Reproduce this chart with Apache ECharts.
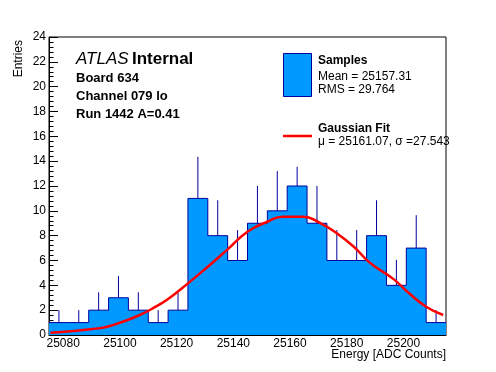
<!DOCTYPE html>
<html>
<head>
<meta charset="utf-8">
<script src="https://cdn.jsdelivr.net/npm/echarts@6/dist/echarts.min.js"></script>
<style>
html,body{margin:0;padding:0;background:#fff;}
#c{width:496px;height:372px;}
</style>
</head>
<body>
<div id="c"></div>
<script>
// ---- data ----
const binEdges = [25075,25082,25089,25096,25103,25110,25117,25124,25131,25138,25145,25152,25159,25166,25173,25180,25187,25194,25201,25208,25215];
const counts   = [1,1,2,3,2,1,2,11,8,6,9,10,12,9,6,6,8,4,7,1];
const errTop   = [2,2,3.44,4.75,3.44,2,3.44,14.35,10.85,8.45,12,13.2,13.55,12,8.45,8.45,10.85,6.05,9.65,2];
const fitX = [25075.5,25083.5,25089.5,25095.5,25101,25107,25112,25117,25124,25131,25138,25145,25152,25157.5,25164.5,25170.5,25176.5,25182.5,25188,25196.5,25202,25208,25214];
const fitY = [0.19,0.32,0.46,0.67,1.07,1.61,2.2,2.9,4.16,5.5,6.9,8.32,9.12,9.53,9.53,9.04,8.19,7.11,5.85,4.5,3.36,2.28,1.61];
const xTickLabels = [25080,25100,25120,25140,25160,25180,25200];
const yTickLabels = [0,2,4,6,8,10,12,14,16,18,20,22,24];

const FONT = '"Liberation Sans", Arial, Helvetica, sans-serif';
const FILL = '#0099ff';
const NAVY = '#00009c';

const xMinor = [];
for (let v = 25080 - 20/6; v <= 25215; v += 20/6) xMinor.push(+v.toFixed(4));

const histPts = counts.map((c,i)=>[binEdges[i], c]);
histPts.push([binEdges[binEdges.length-1], counts[counts.length-1]]);
const errData = counts.map((c,i)=>[(binEdges[i]+binEdges[i+1])/2, c, errTop[i]]);
const fitData = fitX.map((x,i)=>[x, fitY[i]]);

const chart = echarts.init(document.getElementById('c'), null, {renderer:'canvas'});
chart.setOption({
  animation:false,
  backgroundColor:'#fff',
  grid:{left:49,right:50,top:37,bottom:37,show:true,borderColor:'#000',borderWidth:1,backgroundColor:'transparent'},
  xAxis:[
    {type:'value',min:25075,max:25215,position:'bottom',
     axisLine:{show:true,onZero:false,lineStyle:{color:'#000',width:1}},
     axisTick:{show:true,inside:true,length:9,customValues:xTickLabels,lineStyle:{color:'#000'}},
     axisLabel:{customValues:xTickLabels,color:'#000',fontSize:12,fontFamily:FONT,margin:3,
       formatter:(v)=>String(v)},
     splitLine:{show:false}},
    {type:'value',min:25075,max:25215,position:'bottom',
     axisLine:{show:false},
     axisTick:{show:true,inside:true,length:4.5,customValues:xMinor,lineStyle:{color:'#000'}},
     axisLabel:{show:false},splitLine:{show:false}}
  ],
  yAxis:{type:'value',min:0,max:24,interval:2,
     axisLine:{show:true,lineStyle:{color:'#000',width:1}},
     axisTick:{show:true,inside:true,length:9,lineStyle:{color:'#000'}},
     minorTick:{show:true,splitNumber:5,length:4.5,lineStyle:{color:'#000'}},
     axisLabel:{color:'#000',fontSize:12,fontFamily:FONT,margin:3,
       formatter:(v)=>yTickLabels.includes(v)?String(v):''},
     splitLine:{show:false},minorSplitLine:{show:false}},
  series:[
    {type:'line',step:'end',data:histPts,symbol:'none',xAxisIndex:0,
     lineStyle:{color:NAVY,width:1},areaStyle:{color:FILL,opacity:1},z:2},
    {type:'custom',xAxisIndex:0,data:errData,encode:{x:0,y:[1,2]},z:3,
     renderItem:(params,api)=>{
       const p1=api.coord([api.value(0),api.value(1)]);
       const p2=api.coord([api.value(0),api.value(2)]);
       return {type:'line',shape:{x1:p1[0],y1:p1[1],x2:p2[0],y2:p2[1]},style:{stroke:NAVY,lineWidth:1}};
     }},
    {type:'line',data:fitData,smooth:true,symbol:'none',xAxisIndex:0,
     lineStyle:{color:'#ff0000',width:2.5},z:5}
  ],
  graphic:[
    {type:'text',x:76,y:59.5,style:{text:'{a|ATLAS} {b|Internal}',textVerticalAlign:'middle',
      rich:{a:{fontStyle:'italic',fontSize:17,fontFamily:FONT,fill:'#000'},b:{fontWeight:'bold',fontSize:17,fontFamily:FONT,fill:'#000'}}}},
    {type:'text',x:76,y:78,style:{text:'Board 634',font:'bold 13px '+FONT,fill:'#000',textVerticalAlign:'middle'}},
    {type:'text',x:76,y:96,style:{text:'Channel 079 lo',font:'bold 13px '+FONT,fill:'#000',textVerticalAlign:'middle'}},
    {type:'text',x:76,y:114.5,style:{text:'Run 1442 A=0.41',font:'bold 13px '+FONT,fill:'#000',textVerticalAlign:'middle'}},
    {type:'rect',shape:{x:283.5,y:53.5,width:28,height:43},style:{fill:FILL,stroke:NAVY,lineWidth:1}},
    {type:'text',x:318,y:61,style:{text:'Samples',font:'bold 12px '+FONT,fill:'#000',textVerticalAlign:'middle'}},
    {type:'text',x:318,y:76.5,style:{text:'Mean = 25157.31',font:'12px '+FONT,fill:'#000',textVerticalAlign:'middle'}},
    {type:'text',x:318,y:90,style:{text:'RMS = 29.764',font:'12px '+FONT,fill:'#000',textVerticalAlign:'middle'}},
    {type:'line',shape:{x1:283,y1:136,x2:312,y2:136},style:{stroke:'#ff0000',lineWidth:2.5}},
    {type:'text',x:318,y:129,style:{text:'Gaussian Fit',font:'bold 12px '+FONT,fill:'#000',textVerticalAlign:'middle'}},
    {type:'text',x:318,y:142,style:{text:'μ = 25161.07, σ =27.543',font:'12px '+FONT,fill:'#000',textVerticalAlign:'middle'}},
    {type:'text',x:19,y:40,rotation:Math.PI/2,style:{text:'Entries',font:'12px '+FONT,fill:'#000',textAlign:'right',textVerticalAlign:'middle'}},
    {type:'text',x:446,y:355,style:{text:'Energy [ADC Counts]',font:'12px '+FONT,fill:'#000',textAlign:'right',textVerticalAlign:'middle'}}
  ]
});
</script>
</body>
</html>
